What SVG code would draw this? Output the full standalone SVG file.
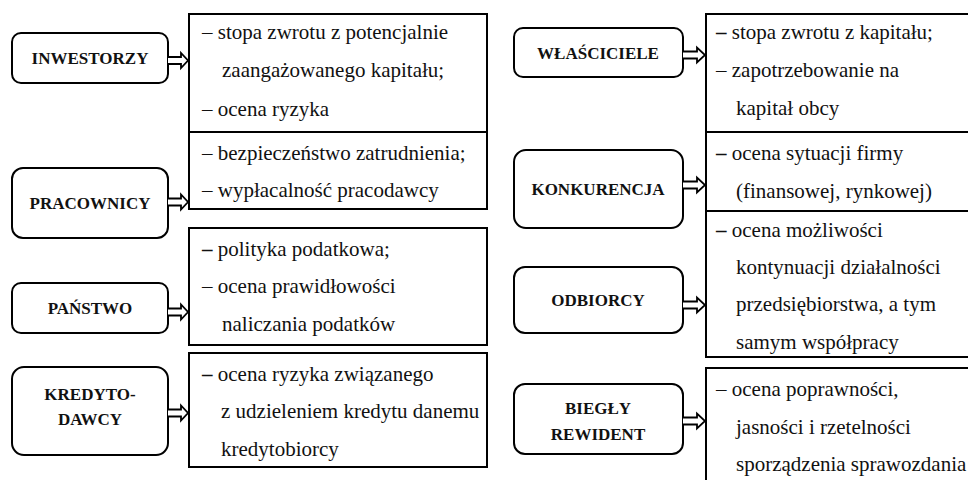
<svg xmlns="http://www.w3.org/2000/svg" width="968" height="480" viewBox="0 0 968 480">
<style>
.lbl{fill:#fff;stroke:#000;stroke-width:2}
.box{fill:#fff;stroke:#000;stroke-width:2}
.lt{font-family:'Liberation Serif','Tinos','Times New Roman','DejaVu Serif',serif;font-weight:bold;font-size:17px;text-anchor:middle;fill:#111}
.bt{font-family:'Liberation Serif','Tinos','Times New Roman','DejaVu Serif',serif;font-size:21px;fill:#111}
.arr{fill:#fff;stroke:#000;stroke-width:1.8;stroke-linejoin:miter}
.bd{font-weight:bold}
</style>
<rect width="968" height="480" fill="#fff"/>
<g id="desc-inwestorzy"><rect class="box" x="189" y="14" width="298" height="118"/>
<text class="bt" x="202" y="39">– stopa zwrotu z potencjalnie</text>
<text class="bt" x="222" y="77">zaangażowanego kapitału;</text>
<text class="bt" x="202" y="116">– ocena ryzyka</text></g>
<g id="desc-pracownicy"><rect class="box" x="189" y="132" width="298" height="77"/>
<text class="bt" x="202" y="160">– bezpieczeństwo zatrudnienia;</text>
<text class="bt" x="202" y="197">– wypłacalność pracodawcy</text></g>
<g id="desc-panstwo"><rect class="box" x="189" y="228" width="298" height="117"/>
<text class="bt" x="202" y="256"><tspan class="bd">–</tspan> polityka podatkowa;</text>
<text class="bt" x="202" y="293">– ocena prawidłowości</text>
<text class="bt" x="222" y="331">naliczania podatków</text></g>
<g id="desc-kredytodawcy"><rect class="box" x="189" y="353" width="298" height="114"/>
<text class="bt" x="202" y="381"><tspan class="bd">–</tspan> ocena ryzyka związanego</text>
<text class="bt" x="221" y="418">z udzieleniem kredytu danemu</text>
<text class="bt" x="221" y="456">kredytobiorcy</text></g>
<g id="desc-wlasciciele"><rect class="box" x="706" y="14" width="280" height="118"/>
<text class="bt" x="716" y="39"><tspan class="bd">–</tspan> stopa zwrotu z kapitału;</text>
<text class="bt" x="716" y="77">– zapotrzebowanie na</text>
<text class="bt" x="736" y="115">kapitał obcy</text></g>
<g id="desc-konkurencja"><rect class="box" x="706" y="132" width="280" height="79"/>
<text class="bt" x="716" y="160"><tspan class="bd">–</tspan> ocena sytuacji firmy</text>
<text class="bt" x="736" y="198">(finansowej, rynkowej)</text></g>
<g id="desc-odbiorcy"><rect class="box" x="706" y="211" width="280" height="146"/>
<text class="bt" x="716" y="237"><tspan class="bd">–</tspan> ocena możliwości</text>
<text class="bt" x="736" y="274">kontynuacji działalności</text>
<text class="bt" x="736" y="311">przedsiębiorstwa, a tym</text>
<text class="bt" x="736" y="349">samym współpracy</text></g>
<g id="desc-bieglyrewident"><rect class="box" x="706" y="368" width="280" height="130"/>
<text class="bt" x="716" y="396">– ocena poprawności,</text>
<text class="bt" x="736" y="434">jasności i rzetelności</text>
<text class="bt" x="736" y="471">sporządzenia sprawozdania</text></g>
<g id="inwestorzy"><rect class="lbl" x="12" y="33" width="156" height="50" rx="9"/><text class="lt" x="90" y="64">INWESTORZY</text></g>
<g id="pracownicy"><rect class="lbl" x="12" y="168" width="156" height="70" rx="11"/><text class="lt" x="90" y="209">PRACOWNICY</text></g>
<g id="panstwo"><rect class="lbl" x="12" y="283" width="156" height="50" rx="9"/><text class="lt" x="90" y="314">PAŃSTWO</text></g>
<g id="kredytodawcy"><rect class="lbl" x="12" y="367" width="156" height="88" rx="12"/><text class="lt" x="90" y="400">KREDYTO-</text><text class="lt" x="90" y="425">DAWCY</text></g>
<g id="wlasciciele"><rect class="lbl" x="514" y="28" width="169" height="49" rx="9"/><text class="lt" x="598" y="59">WŁAŚCICIELE</text></g>
<g id="konkurencja"><rect class="lbl" x="514" y="150" width="169" height="78" rx="12"/><text class="lt" x="598" y="195">KONKURENCJA</text></g>
<g id="odbiorcy"><rect class="lbl" x="514" y="267" width="169" height="66" rx="11"/><text class="lt" x="598" y="306">ODBIORCY</text></g>
<g id="bieglyrewident"><rect class="lbl" x="514" y="384" width="169" height="70" rx="11"/><text class="lt" x="598" y="414">BIEGŁY</text><text class="lt" x="598" y="440">REWIDENT</text></g>
<g id="connectors">
<path class="arr" d="M168,57 H181 V53 L188,60.5 L181,68 V64 H168"/>
<path class="arr" d="M168,198.5 H181 V194.5 L188,202 L181,209.5 V205.5 H168"/>
<path class="arr" d="M168,308.5 H181 V304.5 L188,312 L181,319.5 V315.5 H168"/>
<path class="arr" d="M168,409.5 H181 V405.5 L188,413 L181,420.5 V416.5 H168"/>
<path class="arr" d="M683,51.5 H697 V47.5 L705,55 L697,62.5 V58.5 H683"/>
<path class="arr" d="M683,181.5 H697 V177.5 L705,185 L697,192.5 V188.5 H683"/>
<path class="arr" d="M683,301.5 H697 V297.5 L705,305 L697,312.5 V308.5 H683"/>
<path class="arr" d="M683,417.5 H697 V413.5 L705,421 L697,428.5 V424.5 H683"/>
</g>
</svg>
